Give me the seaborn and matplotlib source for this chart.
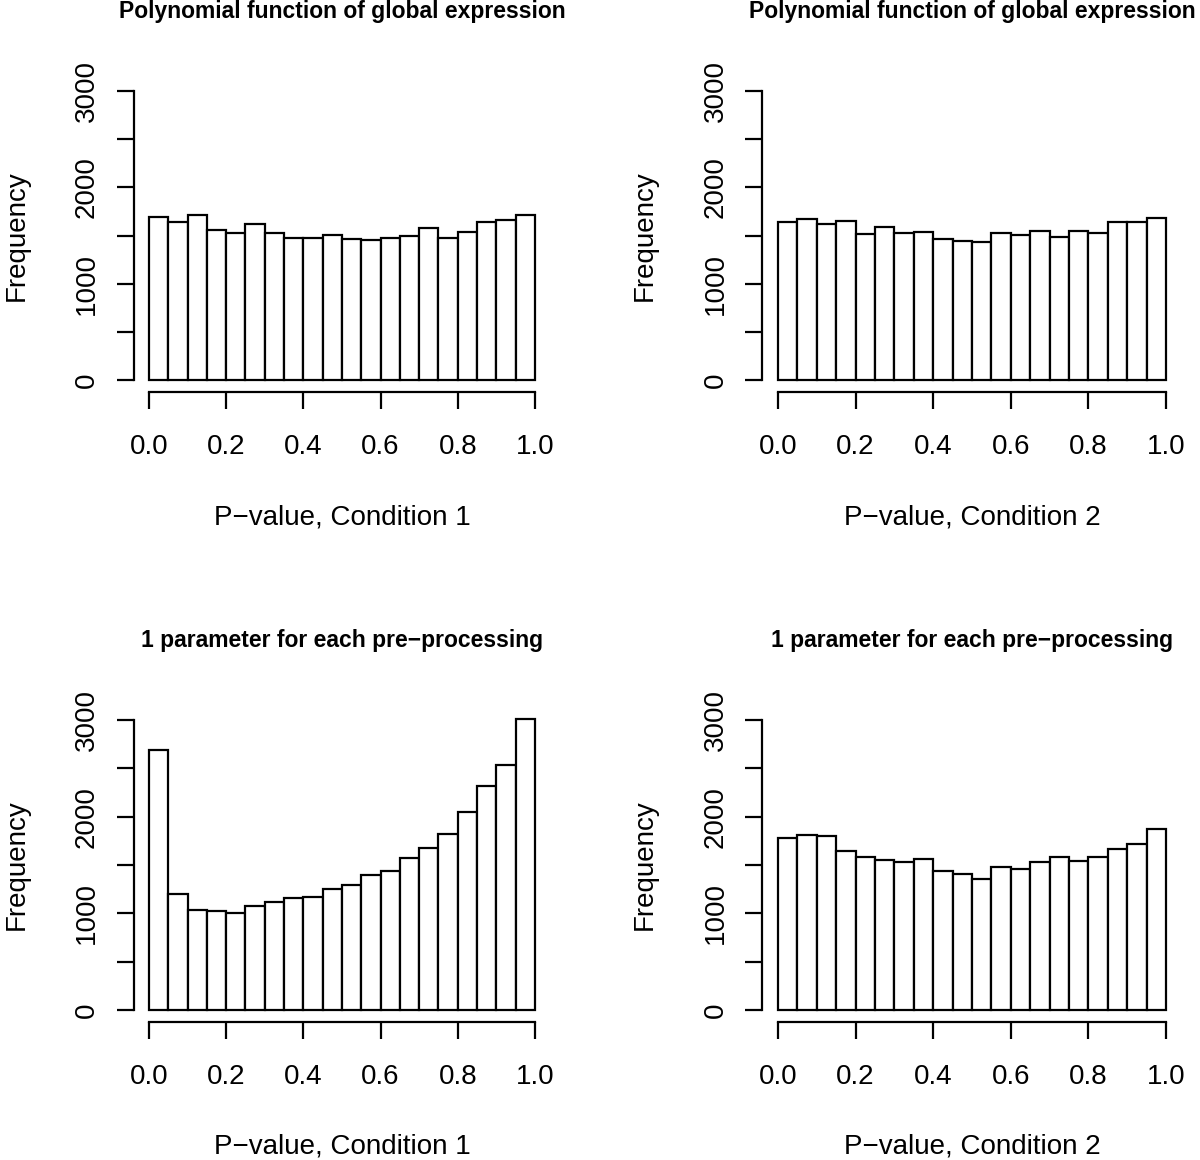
import numpy as np
import pandas as pd
import matplotlib
matplotlib.use("Agg")
import matplotlib.pyplot as plt
import seaborn as sns

sns.set_style("ticks")
plt.rcParams["font.family"] = ["Liberation Sans", "DejaVu Sans"]
plt.rcParams["text.color"] = "black"
plt.rcParams["axes.labelcolor"] = "black"

# bin edges of the p-value histograms (20 bins on [0, 1])
BIN_EDGES = np.linspace(0.0, 1.0, 21)

# counts per bin
poly_cond1 = [1690, 1638, 1717, 1559, 1524, 1621, 1524, 1472, 1472, 1510,
              1469, 1452, 1479, 1493, 1579, 1479, 1538, 1641, 1662, 1717]
poly_cond2 = [1645, 1669, 1624, 1652, 1514, 1593, 1524, 1538, 1462, 1445,
              1431, 1528, 1503, 1548, 1483, 1552, 1531, 1645, 1645, 1679]
param_cond1 = [2686, 1203, 1031, 1028, 1000, 1076, 1121, 1162, 1169, 1248,
               1293, 1393, 1438, 1569, 1672, 1824, 2048, 2317, 2534, 3007]
param_cond2 = [1776, 1810, 1797, 1641, 1586, 1552, 1528, 1562, 1434, 1410,
               1352, 1476, 1455, 1531, 1586, 1541, 1579, 1662, 1717, 1876]

TITLE_POLY = "Polynomial function of global expression"
TITLE_PARAM = "1 parameter for each pre\u2212processing"
XLAB_1 = "P\u2212value, Condition 1"
XLAB_2 = "P\u2212value, Condition 2"

X_TICKS = [0.0, 0.2, 0.4, 0.6, 0.8, 1.0]
X_TICK_LABELS = ["0.0", "0.2", "0.4", "0.6", "0.8", "1.0"]
Y_TICKS = [0, 500, 1000, 1500, 2000, 2500, 3000]
Y_TICK_LABELS = ["0", "", "1000", "", "2000", "", "3000"]

panels = [
    (poly_cond1, TITLE_POLY, XLAB_1, [0.1113, 0.6620, 0.3474, 0.2696]),
    (poly_cond2, TITLE_POLY, XLAB_2, [0.6354, 0.6620, 0.3492, 0.2696]),
    (param_cond1, TITLE_PARAM, XLAB_1, [0.1113, 0.1193, 0.3474, 0.2700]),
    (param_cond2, TITLE_PARAM, XLAB_2, [0.6354, 0.1193, 0.3492, 0.2700]),
]


def draw_panel(fig, counts, title, xlabel, pos):
    ax = fig.add_axes(pos)
    centers = (BIN_EDGES[:-1] + BIN_EDGES[1:]) / 2
    df = pd.DataFrame({"pvalue": centers, "count": counts})
    sns.histplot(data=df, x="pvalue", weights="count", bins=list(BIN_EDGES),
                 color="white", edgecolor="black", linewidth=1.6, alpha=1,
                 ax=ax)

    ax.set_xlim(-0.04, 1.04)
    ax.set_ylim(-120, 3120)

    for side in ["top", "right"]:
        ax.spines[side].set_visible(False)
    for side in ["left", "bottom"]:
        ax.spines[side].set_linewidth(1.6)
        ax.spines[side].set_color("black")
    ax.spines["left"].set_bounds(0, 3000)
    ax.spines["bottom"].set_bounds(0, 1)

    ax.set_xticks(X_TICKS)
    ax.set_xticklabels(X_TICK_LABELS)
    ax.set_yticks(Y_TICKS)
    ax.set_yticklabels(Y_TICK_LABELS, rotation=90, va="center")
    ax.tick_params(axis="both", length=12.5, width=1.6, color="black",
                   labelsize=20, labelcolor="black")
    ax.tick_params(axis="x", pad=18)
    ax.tick_params(axis="y", pad=12)

    ax.set_title(title, fontsize=16.5, fontweight="bold", pad=44, color="black")
    ax.set_xlabel(xlabel, fontsize=20, color="black")
    ax.set_ylabel("Frequency", fontsize=20, color="black")
    ax.xaxis.set_label_coords(0.5, -0.40)
    ax.xaxis.label.set_va("center")
    ax.yaxis.set_label_coords(-0.28, 0.5)
    ax.yaxis.label.set_va("center")
    ax.grid(False)
    return ax


fig = plt.figure(figsize=(12, 11.6), dpi=100)
fig.patch.set_facecolor("white")
for counts, title, xlabel, pos in panels:
    draw_panel(fig, counts, title, xlabel, pos)

plt.savefig("out.png", dpi=100, facecolor="white")
plt.close()
